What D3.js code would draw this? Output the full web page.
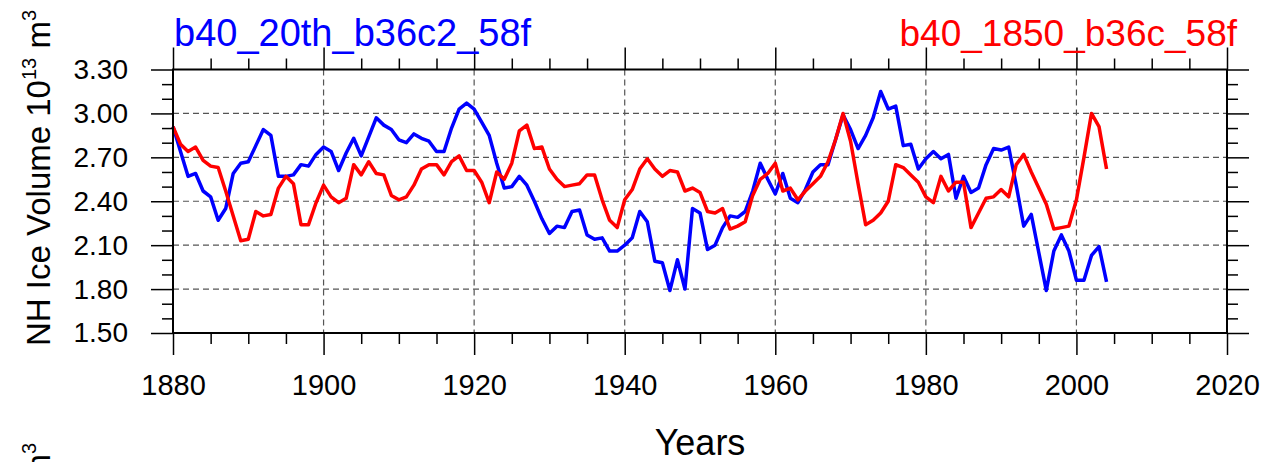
<!DOCTYPE html>
<html>
<head>
<meta charset="utf-8">
<script src="https://cdn.jsdelivr.net/npm/d3@7"></script>
<style>
  html, body { margin: 0; padding: 0; background: #fff; }
  svg { display: block; font-family: "Liberation Sans", Arial, Helvetica, sans-serif; }
</style>
</head>
<body>
<svg id="chart" width="1268" height="462"></svg>
<script>
// NH ice volume (10^13 m^3), annual values from 1880 onward
const firstYear = 1880;
const run20th = [
  2.91, 2.74, 2.57, 2.59, 2.47, 2.43, 2.27, 2.35, 2.59, 2.66,
  2.67, 2.78, 2.89, 2.85, 2.57, 2.57, 2.58, 2.65, 2.64, 2.72,
  2.77, 2.74, 2.61, 2.73, 2.83, 2.71, 2.84, 2.97, 2.92, 2.89,
  2.82, 2.80, 2.86, 2.83, 2.81, 2.74, 2.74, 2.90, 3.03, 3.07,
  3.03, 2.94, 2.85, 2.66, 2.49, 2.50, 2.57, 2.51, 2.40, 2.28,
  2.18, 2.23, 2.22, 2.33, 2.34, 2.17, 2.14, 2.15, 2.06, 2.06,
  2.10, 2.15, 2.33, 2.26, 1.99, 1.98, 1.79, 2.00, 1.80, 2.35,
  2.32, 2.07, 2.10, 2.22, 2.30, 2.29, 2.33, 2.47, 2.66, 2.55,
  2.45, 2.59, 2.42, 2.39, 2.48, 2.60, 2.65, 2.65, 2.82, 2.99,
  2.89, 2.76, 2.85, 2.97, 3.15, 3.03, 3.05, 2.78, 2.79, 2.62,
  2.69, 2.74, 2.69, 2.72, 2.42, 2.57, 2.46, 2.49, 2.65, 2.76,
  2.75, 2.77, 2.51, 2.23, 2.31, 2.05, 1.79, 2.06, 2.17, 2.06,
  1.86, 1.86, 2.03, 2.09, 1.85
];
const run1850 = [
  2.91, 2.79, 2.74, 2.77, 2.68, 2.64, 2.63, 2.47, 2.30, 2.13,
  2.14, 2.33, 2.30, 2.31, 2.49, 2.57, 2.52, 2.24, 2.24, 2.39,
  2.51, 2.43, 2.39, 2.42, 2.65, 2.58, 2.67, 2.59, 2.58, 2.44,
  2.41, 2.43, 2.51, 2.62, 2.65, 2.65, 2.58, 2.67, 2.71, 2.61,
  2.61, 2.53, 2.39, 2.60, 2.55, 2.66, 2.88, 2.92, 2.76, 2.77,
  2.62, 2.55, 2.50, 2.51, 2.52, 2.58, 2.58, 2.41, 2.27, 2.22,
  2.41, 2.48, 2.62, 2.69, 2.62, 2.57, 2.61, 2.60, 2.47, 2.49,
  2.46, 2.33, 2.32, 2.35, 2.21, 2.23, 2.26, 2.44, 2.55, 2.59,
  2.66, 2.47, 2.49, 2.41, 2.47, 2.52, 2.57, 2.67, 2.82, 3.00,
  2.81, 2.52, 2.24, 2.27, 2.32, 2.40, 2.65, 2.63, 2.58, 2.53,
  2.43, 2.39, 2.57, 2.47, 2.53, 2.53, 2.22, 2.32, 2.42, 2.43,
  2.48, 2.43, 2.65, 2.72, 2.60, 2.49, 2.38, 2.21, 2.22, 2.23,
  2.41, 2.70, 3.00, 2.91, 2.62
];
const seriesNames = ["b40_20th_b36c2_58f", "b40_1850_b36c_58f"];
const seriesColors = ["#0000ff", "#ff0000"];
const xMajorTicks = [1880, 1900, 1920, 1940, 1960, 1980, 2000, 2020];
const yMajorTicks = [1.50, 1.80, 2.10, 2.40, 2.70, 3.00, 3.30];

const svg = d3.select("#chart");
const plot = { left: 173, right: 1227, top: 69.5, bottom: 333 };

const x = d3.scaleLinear().domain([1880, 2020]).range([plot.left, plot.right]);
const y = d3.scaleLinear().domain([1.5, 3.3]).range([plot.bottom, plot.top]);

const xMinor = d3.range(1880, 2020.001, 5).filter(v => !xMajorTicks.includes(v));
const yMinor = d3.range(15, 33.001, 1).map(v => v / 10).filter(v => !yMajorTicks.some(t => Math.abs(t - v) < 1e-6));

// dashed grid (interior lines only)
const grid = svg.append("g").attr("stroke", "#555").attr("stroke-width", 1.2).attr("stroke-dasharray", "6,4");
grid.selectAll("line.v").data(xMajorTicks.slice(1, -1)).join("line")
  .attr("x1", d => x(d)).attr("x2", d => x(d)).attr("y1", plot.top).attr("y2", plot.bottom);
grid.selectAll("line.h").data(yMajorTicks.slice(1, -1)).join("line")
  .attr("x1", plot.left).attr("x2", plot.right).attr("y1", d => y(d)).attr("y2", d => y(d));

// series lines
const line = d3.line().x((d, i) => x(firstYear + i)).y(d => y(d));
[run20th, run1850].forEach((vals, k) => {
  svg.append("path").datum(vals)
    .attr("fill", "none").attr("stroke", seriesColors[k])
    .attr("stroke-width", 3.5).attr("stroke-linejoin", "round")
    .attr("d", line);
});

// axes with outward ticks on all four sides
function styleAxis(g) {
  g.select(".domain").remove();
  g.selectAll(".tick line").attr("stroke", "#000").attr("stroke-width", 1.5);
  g.selectAll("text").attr("fill", "#000");
}
const fmt = d3.format(".2f");

svg.append("g").attr("transform", `translate(0,${plot.bottom})`)
  .call(d3.axisBottom(x).tickValues(xMinor).tickSize(11).tickFormat(""))
  .call(styleAxis);
svg.append("g").attr("transform", `translate(0,${plot.bottom})`)
  .call(d3.axisBottom(x).tickValues(xMajorTicks).tickSize(22).tickPadding(19).tickFormat(d3.format("d")))
  .call(styleAxis)
  .selectAll("text").attr("font-size", 29);

svg.append("g").attr("transform", `translate(0,${plot.top})`)
  .call(d3.axisTop(x).tickValues(xMinor).tickSize(11).tickFormat(""))
  .call(styleAxis);
svg.append("g").attr("transform", `translate(0,${plot.top})`)
  .call(d3.axisTop(x).tickValues(xMajorTicks).tickSize(22).tickFormat(""))
  .call(styleAxis);

svg.append("g").attr("transform", `translate(${plot.left},0)`)
  .call(d3.axisLeft(y).tickValues(yMinor).tickSize(11).tickFormat(""))
  .call(styleAxis);
svg.append("g").attr("transform", `translate(${plot.left},0)`)
  .call(d3.axisLeft(y).tickValues(yMajorTicks).tickSize(22).tickPadding(23).tickFormat(fmt))
  .call(styleAxis)
  .selectAll("text").attr("font-size", 28);

svg.append("g").attr("transform", `translate(${plot.right},0)`)
  .call(d3.axisRight(y).tickValues(yMinor).tickSize(11).tickFormat(""))
  .call(styleAxis);
svg.append("g").attr("transform", `translate(${plot.right},0)`)
  .call(d3.axisRight(y).tickValues(yMajorTicks).tickSize(22).tickFormat(""))
  .call(styleAxis);

// frame
svg.append("rect")
  .attr("x", plot.left).attr("y", plot.top)
  .attr("width", plot.right - plot.left).attr("height", plot.bottom - plot.top)
  .attr("fill", "none").attr("stroke", "#000").attr("stroke-width", 2);

// run names above the frame
svg.append("text").attr("x", plot.left + 1).attr("y", 46)
  .attr("font-size", 38).attr("fill", seriesColors[0]).text(seriesNames[0]);
svg.append("text").attr("x", 1237).attr("y", 46).attr("text-anchor", "end")
  .attr("font-size", 37).attr("fill", seriesColors[1]).text(seriesNames[1]);

// axis titles
svg.append("text").attr("x", (plot.left + plot.right) / 2).attr("y", 455)
  .attr("text-anchor", "middle").attr("font-size", 36).attr("fill", "#000").text("Years");

function yTitle(offsetY) {
  const t = svg.append("text")
    .attr("transform", `translate(50,${346 + offsetY}) rotate(-90)`)
    .attr("font-size", 33).attr("fill", "#000");
  t.append("tspan").text("NH Ice Volume 10");
  t.append("tspan").attr("font-size", 20).attr("dy", -14).text("13");
  t.append("tspan").attr("dy", 14).text(" m");
  t.append("tspan").attr("font-size", 20).attr("dy", -14).text("3");
}
yTitle(0);
// title of the panel below, only its top end shows at the bottom edge
yTitle(433);
</script>
</body>
</html>
